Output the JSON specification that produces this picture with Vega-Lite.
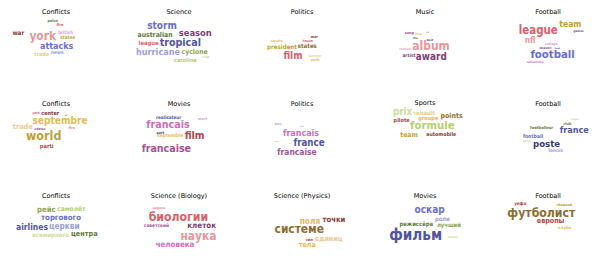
{
  "$schema": "https://vega.github.io/schema/vega-lite/v6.json",
  "padding": {"left": 1, "top": 8.5, "right": 0, "bottom": 0},
  "autosize": {"type": "pad"},
  "background": "white",
  "data": {"values": [
    {"p": "01|Conflicts", "w": "police", "x": 51.7, "y": 10.6, "s": 4.6, "c": 4},
    {"p": "01|Conflicts", "w": "fire", "x": 59, "y": 14, "s": 5.2, "c": 14},
    {"p": "01|Conflicts", "w": "war", "x": 17.3, "y": 22.6, "s": 8.3, "c": 12},
    {"p": "01|Conflicts", "w": "york", "x": 41.7, "y": 25.6, "s": 15.6, "c": 15},
    {"p": "01|Conflicts", "w": "british", "x": 64.7, "y": 22.3, "s": 6, "c": 19},
    {"p": "01|Conflicts", "w": "states", "x": 66.7, "y": 27, "s": 6.3, "c": 9},
    {"p": "01|Conflicts", "w": "attacks", "x": 55.7, "y": 35.6, "s": 11.7, "c": 2},
    {"p": "01|Conflicts", "w": "trade", "x": 40.7, "y": 43.6, "s": 7.1, "c": 11},
    {"p": "01|Conflicts", "w": "news", "x": 56.3, "y": 42.6, "s": 6.5, "c": 3},

    {"p": "02|Science", "w": "storm", "x": 38, "y": 15.6, "s": 13.2, "c": 2},
    {"p": "02|Science", "w": "season", "x": 71.3, "y": 22.3, "s": 12.3, "c": 16},
    {"p": "02|Science", "w": "australian", "x": 31, "y": 24.3, "s": 9, "c": 4},
    {"p": "02|Science", "w": "league", "x": 24.6, "y": 32.6, "s": 7.7, "c": 14},
    {"p": "02|Science", "w": "tropical", "x": 56.3, "y": 32, "s": 14, "c": 1},
    {"p": "02|Science", "w": "hurricane", "x": 34, "y": 41.6, "s": 11.9, "c": 3},
    {"p": "02|Science", "w": "cyclone", "x": 70.6, "y": 41, "s": 9, "c": 5},
    {"p": "02|Science", "w": "carolina", "x": 61.3, "y": 49, "s": 7.4, "c": 6},
    {"p": "02|Science", "w": "cup", "x": 82, "y": 46, "s": 5, "c": 7},

    {"p": "03|Politics", "w": "war", "x": 67.3, "y": 26, "s": 5, "c": 12},
    {"p": "03|Politics", "w": "house", "x": 60.7, "y": 30.3, "s": 4.5, "c": 14},
    {"p": "03|Politics", "w": "senate", "x": 29.7, "y": 30.6, "s": 4.5, "c": 10},
    {"p": "03|Politics", "w": "president", "x": 35, "y": 36, "s": 8.1, "c": 9},
    {"p": "03|Politics", "w": "states", "x": 60.3, "y": 35.3, "s": 8, "c": 8},
    {"p": "03|Politics", "w": "film", "x": 46, "y": 45.6, "s": 13.2, "c": 14},
    {"p": "03|Politics", "w": "minister", "x": 68, "y": 45.3, "s": 4, "c": 11},
    {"p": "03|Politics", "w": "york", "x": 68, "y": 49.3, "s": 5, "c": 10},

    {"p": "04|Music", "w": "song", "x": 39.3, "y": 22, "s": 5, "c": 17},
    {"p": "04|Music", "w": "new", "x": 48.5, "y": 23.8, "s": 4, "c": 10},
    {"p": "04|Music", "w": "uk", "x": 57.7, "y": 21.3, "s": 3, "c": 3},
    {"p": "04|Music", "w": "the", "x": 45.3, "y": 28, "s": 3.5, "c": 16},
    {"p": "04|Music", "w": "best", "x": 60, "y": 29, "s": 4, "c": 1},
    {"p": "04|Music", "w": "album", "x": 61, "y": 35, "s": 15.7, "c": 15},
    {"p": "04|Music", "w": "festival", "x": 35.3, "y": 38.3, "s": 4, "c": 19},
    {"p": "04|Music", "w": "artist", "x": 39, "y": 45.6, "s": 6.3, "c": 16},
    {"p": "04|Music", "w": "award", "x": 61.3, "y": 46.3, "s": 13, "c": 16},

    {"p": "05|Football", "w": "league", "x": 45.3, "y": 20.3, "s": 15, "c": 14},
    {"p": "05|Football", "w": "team", "x": 77.3, "y": 13.6, "s": 11.3, "c": 9},
    {"p": "05|Football", "w": "games", "x": 85.6, "y": 20, "s": 4, "c": 16},
    {"p": "05|Football", "w": "nfl", "x": 37, "y": 30, "s": 10.7, "c": 15},
    {"p": "05|Football", "w": "college", "x": 58.3, "y": 33.6, "s": 4.5, "c": 19},
    {"p": "05|Football", "w": "season", "x": 52.3, "y": 37.2, "s": 4.5, "c": 17},
    {"p": "05|Football", "w": "bowl", "x": 64.3, "y": 37.4, "s": 3, "c": 1},
    {"p": "05|Football", "w": "football", "x": 59.6, "y": 44, "s": 14.9, "c": 2},
    {"p": "05|Football", "w": "university", "x": 42.3, "y": 51.3, "s": 4.3, "c": 18},

    {"p": "06|Conflicts", "w": "york", "x": 35, "y": 10, "s": 4.5, "c": 14},
    {"p": "06|Conflicts", "w": "center", "x": 49.3, "y": 10, "s": 7.2, "c": 12},
    {"p": "06|Conflicts", "w": "us", "x": 65, "y": 12.3, "s": 3, "c": 2},
    {"p": "06|Conflicts", "w": "septembre", "x": 59, "y": 18.6, "s": 13.3, "c": 10},
    {"p": "06|Conflicts", "w": "trade", "x": 21.7, "y": 24, "s": 9.5, "c": 11},
    {"p": "06|Conflicts", "w": "edition", "x": 39, "y": 26, "s": 4, "c": 16},
    {"p": "06|Conflicts", "w": "fire", "x": 70.7, "y": 25, "s": 5, "c": 15},
    {"p": "06|Conflicts", "w": "world", "x": 42.7, "y": 33.6, "s": 16.4, "c": 9},
    {"p": "06|Conflicts", "w": "parti", "x": 45.7, "y": 43, "s": 7.5, "c": 13},

    {"p": "07|Movies", "w": "realisateur", "x": 44.6, "y": 15, "s": 6, "c": 1},
    {"p": "07|Movies", "w": "mort", "x": 78.6, "y": 16.3, "s": 5, "c": 19},
    {"p": "07|Movies", "w": "francais", "x": 44, "y": 22, "s": 14.1, "c": 18},
    {"p": "07|Movies", "w": "sort", "x": 36.3, "y": 30.3, "s": 5, "c": 0},
    {"p": "07|Movies", "w": "septembre", "x": 46.3, "y": 33.6, "s": 6.4, "c": 10},
    {"p": "07|Movies", "w": "film", "x": 70.6, "y": 33, "s": 13.7, "c": 13},
    {"p": "07|Movies", "w": "francaise", "x": 42.3, "y": 46.3, "s": 13.9, "c": 17},

    {"p": "08|Politics", "w": "bleu", "x": 31, "y": 21, "s": 4, "c": 3},
    {"p": "08|Politics", "w": "par", "x": 55, "y": 24, "s": 3, "c": 19},
    {"p": "08|Politics", "w": "francais", "x": 54, "y": 30.3, "s": 11.7, "c": 18},
    {"p": "08|Politics", "w": "vote", "x": 29.7, "y": 38, "s": 2.5, "c": 6},
    {"p": "08|Politics", "w": "loi", "x": 43.3, "y": 40.6, "s": 2.5, "c": 11},
    {"p": "08|Politics", "w": "france", "x": 62, "y": 40, "s": 12.7, "c": 1},
    {"p": "08|Politics", "w": "francaise", "x": 50, "y": 49, "s": 11.1, "c": 17},

    {"p": "09|Sports", "w": "prix", "x": 32.6, "y": 9, "s": 12.9, "c": 7},
    {"p": "09|Sports", "w": "renault", "x": 54.3, "y": 10, "s": 7.8, "c": 11},
    {"p": "09|Sports", "w": "groupe", "x": 58.3, "y": 15, "s": 7.4, "c": 10},
    {"p": "09|Sports", "w": "points", "x": 81.6, "y": 13.6, "s": 9.2, "c": 8},
    {"p": "09|Sports", "w": "pilote", "x": 31.6, "y": 17.6, "s": 7.2, "c": 13},
    {"p": "09|Sports", "w": "formule", "x": 62.3, "y": 23, "s": 14.8, "c": 6},
    {"p": "09|Sports", "w": "team", "x": 39, "y": 32, "s": 8.9, "c": 9},
    {"p": "09|Sports", "w": "automobile", "x": 71.3, "y": 31.6, "s": 6.9, "c": 12},

    {"p": "10|Football", "w": "coupe", "x": 81.6, "y": 16.6, "s": 3.5, "c": 7},
    {"p": "10|Football", "w": "club", "x": 74.3, "y": 21.3, "s": 5, "c": 4},
    {"p": "10|Football", "w": "footballeur", "x": 48.6, "y": 25.3, "s": 5.4, "c": 4},
    {"p": "10|Football", "w": "france", "x": 81.3, "y": 27.6, "s": 11.9, "c": 1},
    {"p": "10|Football", "w": "football", "x": 40, "y": 33.6, "s": 6.8, "c": 2},
    {"p": "10|Football", "w": "sport", "x": 34, "y": 38.3, "s": 4, "c": 7},
    {"p": "10|Football", "w": "poste", "x": 53.6, "y": 41, "s": 12.6, "c": 0},
    {"p": "10|Football", "w": "tennis", "x": 62.6, "y": 48, "s": 6.2, "c": 3},

    {"p": "11|Conflicts", "w": "рейс", "x": 45.3, "y": 15, "s": 10, "c": 5},
    {"p": "11|Conflicts", "w": "самолёт", "x": 70.3, "y": 14.3, "s": 8.7, "c": 6},
    {"p": "11|Conflicts", "w": "торгового", "x": 60, "y": 23.6, "s": 10.2, "c": 2},
    {"p": "11|Conflicts", "w": "airlines", "x": 31, "y": 32.6, "s": 11.2, "c": 1},
    {"p": "11|Conflicts", "w": "церкви", "x": 63.3, "y": 32, "s": 10.8, "c": 3},
    {"p": "11|Conflicts", "w": "всемирного", "x": 49.7, "y": 40.3, "s": 8, "c": 7},
    {"p": "11|Conflicts", "w": "центра", "x": 83.3, "y": 39.6, "s": 9.6, "c": 4},

    {"p": "12|Science (Biology)", "w": "дарвин", "x": 35, "y": 13.6, "s": 4.5, "c": 15},
    {"p": "12|Science (Biology)", "w": "биологии", "x": 54.4, "y": 22, "s": 16, "c": 14},
    {"p": "12|Science (Biology)", "w": "советский", "x": 32.4, "y": 31.6, "s": 6.3, "c": 17},
    {"p": "12|Science (Biology)", "w": "клеток", "x": 77.7, "y": 31.6, "s": 10.5, "c": 16},
    {"p": "12|Science (Biology)", "w": "наука", "x": 74.4, "y": 41, "s": 15.6, "c": 15},
    {"p": "12|Science (Biology)", "w": "человека", "x": 51, "y": 50, "s": 10.4, "c": 18},

    {"p": "13|Science (Physics)", "w": "поля", "x": 63, "y": 26, "s": 11, "c": 10},
    {"p": "13|Science (Physics)", "w": "точки", "x": 87, "y": 25.3, "s": 10, "c": 12},
    {"p": "13|Science (Physics)", "w": "системе", "x": 52.3, "y": 34.6, "s": 15.6, "c": 8},
    {"p": "13|Science (Physics)", "w": "сил", "x": 62.3, "y": 45.3, "s": 5.2, "c": 13},
    {"p": "13|Science (Physics)", "w": "единиц", "x": 81.7, "y": 44.3, "s": 9.4, "c": 11},
    {"p": "13|Science (Physics)", "w": "тела", "x": 60.3, "y": 50.6, "s": 9.4, "c": 10},

    {"p": "14|Movies", "w": "оскар", "x": 59.6, "y": 15.3, "s": 13.2, "c": 2},
    {"p": "14|Movies", "w": "роли", "x": 72.3, "y": 24.6, "s": 7.6, "c": 3},
    {"p": "14|Movies", "w": "режиссёра", "x": 46.3, "y": 29.3, "s": 7.8, "c": 4},
    {"p": "14|Movies", "w": "лучший", "x": 79, "y": 30.3, "s": 7.8, "c": 5},
    {"p": "14|Movies", "w": "фильм", "x": 45.6, "y": 40.3, "s": 20, "c": 1},
    {"p": "14|Movies", "w": "конец", "x": 83, "y": 42.6, "s": 4, "c": 7},

    {"p": "15|Football", "w": "уефа", "x": 27.3, "y": 9.6, "s": 6, "c": 13},
    {"p": "15|Football", "w": "сборной", "x": 71.3, "y": 10.3, "s": 4.8, "c": 9},
    {"p": "15|Football", "w": "футболист", "x": 48.3, "y": 18, "s": 16, "c": 8},
    {"p": "15|Football", "w": "европы", "x": 57.6, "y": 26, "s": 9.4, "c": 13},
    {"p": "15|Football", "w": "клуба", "x": 71.6, "y": 33.3, "s": 5.6, "c": 10}
  ]},
  "facet": {
    "field": "p", "type": "nominal", "sort": "ascending",
    "header": {"title": null, "labelFontSize": 6.5, "labelFont": "DejaVu Sans", "labelColor": "black", "labelPadding": 0.5, "labelExpr": "slice(datum.value, 3)"}
  },
  "columns": 5,
  "spacing": {"row": 10, "column": 13},
  "spec": {
    "width": 110,
    "height": 74,
    "mark": {"type": "text", "font": "DejaVu Sans Condensed", "fontWeight": "bold", "baseline": "middle", "align": "center"},
    "encoding": {
      "x": {"field": "x", "type": "quantitative", "scale": {"domain": [0, 110], "nice": false, "zero": false}, "axis": null},
      "y": {"field": "y", "type": "quantitative", "scale": {"domain": [5, 79], "nice": false, "zero": false, "reverse": true}, "axis": null},
      "text": {"field": "w"},
      "size": {"field": "s", "type": "quantitative", "scale": {"domain": [0, 20], "range": [0, 15.2]}, "legend": null},
      "color": {"field": "c", "type": "nominal", "scale": {"domain": [0,1,2,3,4,5,6,7,8,9,10,11,12,13,14,15,16,17,18,19], "scheme": "category20b"}, "legend": null}
    }
  },
  "config": {"view": {"stroke": null}}
}
